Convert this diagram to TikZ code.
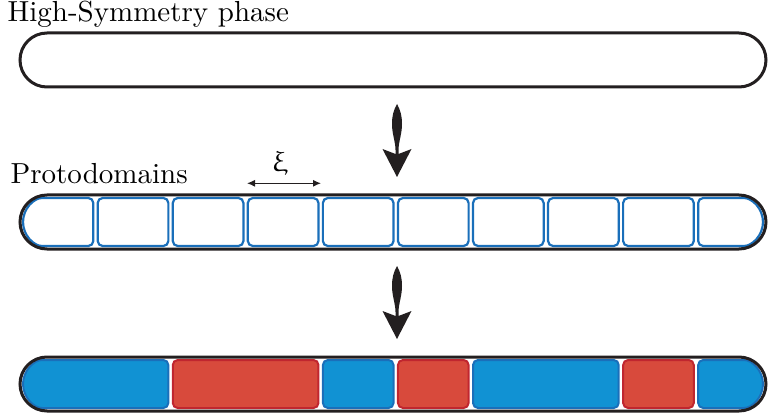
\documentclass[tikz,border=0pt]{standalone}
\usepackage{upgreek}
\usetikzlibrary{arrows.meta}
\definecolor{barblack}{HTML}{231F20}
\definecolor{cellblue}{HTML}{1A6FBA}
\definecolor{fillblue}{HTML}{1192D3}
\definecolor{fillred}{HTML}{D84A3C}
\definecolor{edgered}{HTML}{C0262F}
\tikzset{
  bar/.style={draw=barblack, line width=3pt, rounded corners=27pt},
  cellbox/.style={draw=cellblue, line width=2.2pt, rounded corners=5pt},
  bluecell/.style={draw=cellblue, fill=fillblue, line width=2pt, rounded corners=5pt},
  redcell/.style={draw=edgered, fill=fillred, line width=2pt, rounded corners=5pt},
  lbl/.style={scale=2.9, inner sep=0pt, anchor=base west},
  bigarrow/.style={fill=barblack, draw=none},
}
\begin{document}
\begin{tikzpicture}[x=1pt,y=-1pt]
\useasboundingbox (0,0) rectangle (769,417);
% labels
\node[lbl] (hs) at (7,22) {High-Symmetry phase};
\node[lbl] (pd) at (10,184) {Protodomains};
% top bar
\draw[bar] (20,33) rectangle (766,87);
% arrows
\fill[bigarrow] (397,104) .. controls (400.5,110) and (402,116) .. (402,124)
     .. controls (402,134) and (398.5,142) .. (398.5,150) -- (398.5,154) -- (411.5,149)
     -- (397,177) -- (382.5,149) -- (395.5,154) -- (395.5,150)
     .. controls (395.5,142) and (392,134) .. (392,124)
     .. controls (392,116) and (393.5,110) .. (397,104) -- cycle;
\fill[bigarrow] (397,266) .. controls (400.5,272) and (402,278) .. (402,286)
     .. controls (402,296) and (398.5,304) .. (398.5,312) -- (398.5,316) -- (411.5,311)
     -- (397,339) -- (382.5,311) -- (395.5,316) -- (395.5,312)
     .. controls (395.5,304) and (392,296) .. (392,286)
     .. controls (392,278) and (393.5,272) .. (397,266) -- cycle;
% xi arrow
\coordinate (xl) at (247,183.3);
\coordinate (xr) at (321,183.3);
\draw[barblack, line width=1.2pt, {Latex[length=8pt,width=7pt]}-{Latex[length=8pt,width=7pt]}] (xl) -- (xr);
\node[scale=2.9, inner sep=0pt, anchor=base] (xi) at (280,172) {$\upxi$};
% middle bar
\draw[cellbox] (93.3,246) -- (93.3,198) -- (47,198) arc[start angle=270,end angle=90,radius=24] -- cycle;
\foreach \a/\b in {97.7/168.36,172.76/243.42,247.82/318.48,322.88/393.54,397.94/468.6,473.0/543.66,548.06/618.72,623.12/693.78}{
  \draw[cellbox] (\a,198) rectangle (\b,246);
}
\draw[cellbox] (698.18,246) -- (698.18,198) -- (739,198) arc[start angle=-90,end angle=90,radius=24] -- cycle;
\draw[bar] (20,195) rectangle (766,249);
% bottom bar
\draw[bluecell] (168.36,408) -- (168.36,360) -- (47,360) arc[start angle=270,end angle=90,radius=24] -- cycle;
\draw[redcell] (172.76,360) rectangle (318.48,408);
\draw[bluecell] (322.88,360) rectangle (393.54,408);
\draw[redcell] (397.94,360) rectangle (468.6,408);
\draw[bluecell] (473.0,360) rectangle (618.72,408);
\draw[redcell] (623.12,360) rectangle (693.78,408);
\draw[bluecell] (698.18,408) -- (698.18,360) -- (739,360) arc[start angle=-90,end angle=90,radius=24] -- cycle;
\draw[bar] (20,357) rectangle (766,411);
\end{tikzpicture}
\end{document}
